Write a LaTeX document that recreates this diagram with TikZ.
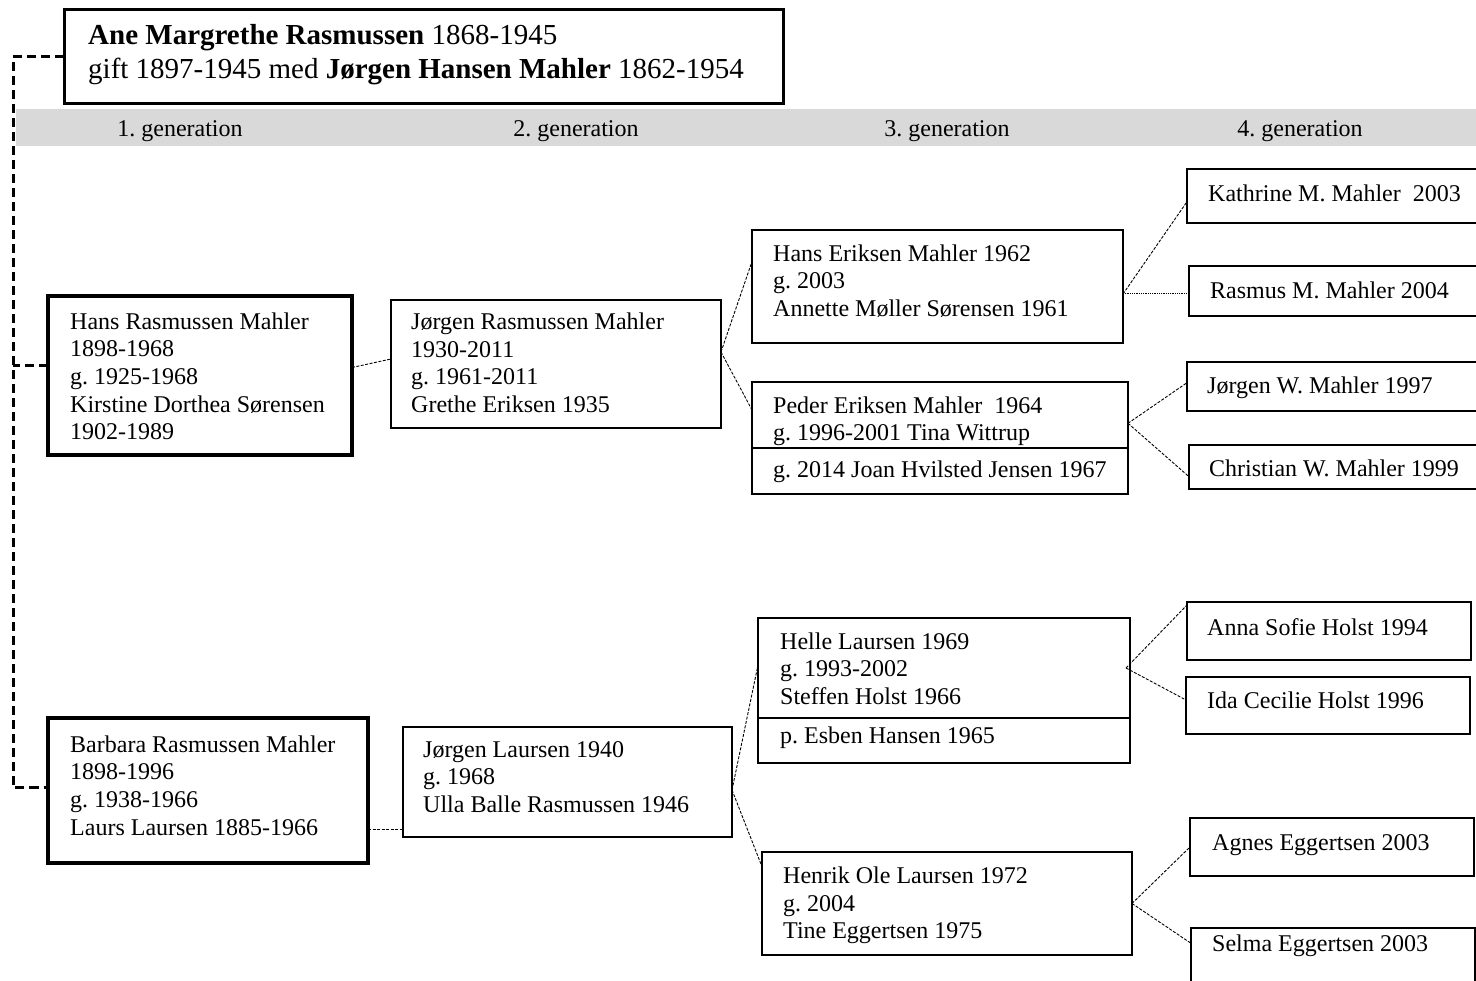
\documentclass[tikz,border=0pt]{standalone}
\usepackage{fontspec}
\setmainfont{Liberation Serif}
\definecolor{bargray}{RGB}{217,217,217}
\frenchspacing
\begin{document}
\frenchspacing
\begin{tikzpicture}[x=1pt,y=-1pt,
  box/.style={draw, line width=2pt, anchor=north west, inner sep=0pt, outer sep=0pt},
  thickbox/.style={box, line width=3.5pt},
  txt/.style={anchor=west, align=left, inner sep=0pt, font={\fontsize{24}{27.6}\selectfont\frenchspacing},
    execute at begin node=\strut, execute at end node=\strut},
  bigtxt/.style={txt, font={\fontsize{29}{34}\selectfont\frenchspacing}},
  gentxt/.style={anchor=center, inner sep=0pt, font={\fontsize{24}{27.6}\selectfont\frenchspacing},
    execute at begin node=\strut},
  conn/.style={line width=0.9pt, dash pattern=on 3pt off 1.5pt},
  dotconn/.style={line width=1pt, dash pattern=on 1pt off 0.8pt},
  famline/.style={line width=3pt, dash pattern=on 9pt off 5pt}]
\useasboundingbox (0,0) rectangle (1476,981);

% generation bar
\node[anchor=north west, inner sep=0pt, outer sep=0pt, fill=bargray,
  minimum width=1460pt, minimum height=37pt] (bar) at (16,109) {};
\node[gentxt] (g1) at (180,130.5) {1. generation};
\node[gentxt] (g2) at (576,130.5) {2. generation};
\node[gentxt] (g3) at (947,130.5) {3. generation};
\node[gentxt] (g4) at (1300,130.5) {4. generation};

% ancestor
\node[box, line width=3pt, minimum width=719pt, minimum height=94pt] (anc) at (64,10) {};
\node[bigtxt] (anc-t) at ([xshift=24pt]anc.west)
  {\textbf{Ane Margrethe Rasmussen} 1868-1945\\gift 1897-1945 med \textbf{Jørgen Hansen Mahler} 1862-1954};

% generation 1
\node[thickbox, minimum width=304pt, minimum height=159pt] (hans) at (48,296) {};
\node[txt] (hans-t) at ([xshift=22pt,yshift=-4.9pt]hans.west)
  {Hans Rasmussen Mahler\\1898-1968\\g. 1925-1968\\Kirstine Dorthea Sørensen\\1902-1989};
\node[thickbox, minimum width=320pt, minimum height=145pt] (barb) at (48,718) {};
\node[txt] (barb-t) at ([xshift=22pt,yshift=1pt]barb.west)
  {Barbara Rasmussen Mahler\\1898-1996\\g. 1938-1966\\Laurs Laursen 1885-1966};

% generation 2
\node[box, minimum width=330pt, minimum height=128pt] (jrm) at (391,300) {};
\node[txt] (jrm-t) at ([xshift=20pt,yshift=-3pt]jrm.west)
  {Jørgen Rasmussen Mahler\\1930-2011\\g. 1961-2011\\Grethe Eriksen 1935};
\node[box, minimum width=329pt, minimum height=110pt] (jl) at (403,727) {};
\node[txt] (jl-t) at ([xshift=20pt,yshift=1pt]jl.west)
  {Jørgen Laursen 1940\\g. 1968\\Ulla Balle Rasmussen 1946};

% generation 3
\node[box, minimum width=371pt, minimum height=113pt] (hem) at (752,230) {};
\node[txt] (hem-t) at ([xshift=21pt,yshift=2pt]hem.west)
  {Hans Eriksen Mahler 1962\\g. 2003\\Annette Møller Sørensen 1961};
\node[box, minimum width=376pt, minimum height=66pt] (ped) at (752,382) {};
\node[box, minimum width=376pt, minimum height=46pt] (pedb) at (752,448) {};
\node[txt] (ped-t) at ([xshift=21pt,yshift=-7.8pt]ped.west)
  {Peder Eriksen Mahler~ 1964\\g. 1996-2001 Tina Wittrup};
\node[txt] (pedb-t) at ([xshift=21pt,yshift=-1pt]pedb.west) {g. 2014 Joan Hvilsted Jensen 1967};
\node[box, minimum width=372pt, minimum height=100pt] (hel) at (758,618) {};
\node[box, minimum width=372pt, minimum height=45pt] (helb) at (758,718) {};
\node[txt] (hel-t) at ([xshift=22pt,yshift=-4.8pt]hel.west)
  {Helle Laursen 1969\\g. 1993-2002\\Steffen Holst 1966};
\node[txt] (helb-t) at ([xshift=22pt,yshift=2.7pt]helb.west) {p. Esben Hansen 1965};
\node[box, minimum width=370pt, minimum height=103pt] (hol) at (762,852) {};
\node[txt] (hol-t) at ([xshift=21pt,yshift=-3.5pt]hol.west)
  {Henrik Ole Laursen 1972\\g. 2004\\Tine Eggertsen 1975};

% generation 4
\node[box, minimum width=293pt, minimum height=54pt] (k1) at (1187,169) {};
\node[txt] (k1-t) at ([xshift=21pt]k1.west) {Kathrine M. Mahler~ 2003};
\node[box, minimum width=291pt, minimum height=50pt] (k2) at (1189,266) {};
\node[txt] (k2-t) at ([xshift=21pt,yshift=-2pt]k2.west) {Rasmus M. Mahler 2004};
\node[box, minimum width=293pt, minimum height=49pt] (k3) at (1187,362) {};
\node[txt] (k3-t) at ([xshift=20pt,yshift=-1pt]k3.west) {Jørgen W. Mahler 1997};
\node[box, minimum width=291pt, minimum height=44pt] (k4) at (1189,445) {};
\node[txt] (k4-t) at ([xshift=20pt,yshift=-4pt]k4.west) {Christian W. Mahler 1999};
\node[box, minimum width=284pt, minimum height=58pt] (k5) at (1187,602) {};
\node[txt] (k5-t) at ([xshift=20pt,yshift=1.5pt]k5.west) {Anna Sofie Holst 1994};
\node[box, minimum width=284pt, minimum height=57pt] (k6) at (1186,677) {};
\node[txt] (k6-t) at ([xshift=21pt,yshift=2.7pt]k6.west) {Ida Cecilie Holst 1996};
\node[box, minimum width=284pt, minimum height=58pt] (k7) at (1190,818) {};
\node[txt] (k7-t) at ([xshift=22pt,yshift=2.5pt]k7.west) {Agnes Eggertsen 2003};
\node[box, minimum width=284pt, minimum height=56pt] (k8) at (1191,928) {};
\node[txt] (k8-t) at ([xshift=21pt,yshift=10pt]k8.west) {Selma Eggertsen 2003};

% family spine
\coordinate (spine) at (13,57);
\draw[famline] (anc.west) -- (spine) |- ([yshift=3pt]barb.west);
\draw[famline] ([yshift=10pt]hans.west) -- ([yshift=10pt]hans.west -| spine);

% connectors
\draw[conn] ([yshift=8pt]hans.east) -- ([yshift=5pt]jrm.west);
\draw[conn] ([yshift=-38.8pt]barb.east) -- ([yshift=-38.8pt]barb.east -| jl.west);
\draw[conn] ([yshift=12pt]jrm.east) -- ([yshift=25pt]hem.west);
\draw[conn] ([yshift=12pt]jrm.east) -- ([yshift=5pt]ped.west);
\draw[conn] ([yshift=-8pt]jl.east) -- ([yshift=3pt]hel.west);
\draw[conn] ([yshift=-8pt]jl.east) -- ([yshift=36.8pt]hol.west);
\draw[conn] ([yshift=-7.5pt]hem.east) -- ([yshift=-5.7pt]k1.west);
\draw[dotconn] ([yshift=-7.5pt]hem.east) -- ([yshift=-7.5pt]hem.east -| k2.west);
\draw[conn] ([yshift=-8.3pt]ped.east) -- ([yshift=3.8pt]k3.west);
\draw[conn] ([yshift=-8.3pt]ped.east) -- ([yshift=-9.7pt]k4.west);
\draw[conn] ([xshift=-4pt]hel.east) -- ([yshift=26pt]k5.west);
\draw[conn] ([xshift=-4pt]hel.east) -- ([yshift=5.5pt]k6.west);
\draw[conn] (hol.east) -- (k7.west);
\draw[conn] (hol.east) -- ([yshift=12.7pt]k8.west);
\end{tikzpicture}
\end{document}
